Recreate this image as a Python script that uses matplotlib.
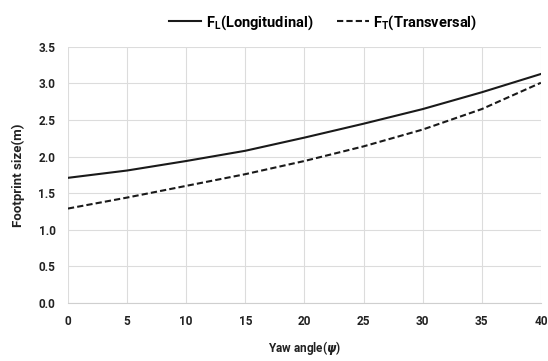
import matplotlib.pyplot as plt

# data
yaw = [0, 5, 10, 15, 20, 25, 30, 35, 40]
f_long = [1.71, 1.81, 1.94, 2.08, 2.26, 2.45, 2.65, 2.88, 3.13]
f_trans = [1.29, 1.44, 1.60, 1.76, 1.94, 2.14, 2.37, 2.65, 3.01]

plt.rcParams['font.family'] = ['Roboto', 'DejaVu Sans']
plt.rcParams['font.weight'] = 'bold'
plt.rcParams['mathtext.default'] = 'regular'

fig = plt.figure(figsize=(5.48, 3.61), dpi=100)
ax = fig.add_axes([0.124, 0.161, 0.863, 0.709])

ax.plot(yaw, f_long, color='#1a1a1a', lw=1.5, label='F$_{L}$(Longitudinal)')
ax.plot(yaw, f_trans, color='#1a1a1a', lw=1.5, ls=(0, (3, 1.5)), label='F$_{T}$(Transversal)')

ax.set_xlim(0, 40)
ax.set_ylim(0, 3.5)
ax.set_xticks(range(0, 41, 5))
ax.set_yticks([i * 0.5 for i in range(8)])
ax.set_yticklabels(['%.1f' % (i * 0.5) for i in range(8)])
for lab in ax.get_xticklabels() + ax.get_yticklabels():
    lab.set_fontweight('bold')
ax.grid(True, color='#dcdcdc', lw=0.8)
ax.set_axisbelow(True)
for s in ax.spines.values():
    s.set_visible(False)
ax.spines['bottom'].set_visible(True)
ax.spines['bottom'].set_color('#cfcfcf')
ax.tick_params(length=0, labelsize=8.5, labelcolor='#222222', pad=9)

ax.set_xlabel('Yaw angle($\\boldsymbol{\\psi}$)', fontsize=8.5, color='#222222',
              fontweight='bold', labelpad=8)
ax.set_ylabel('Footprint size(m)', fontsize=9.5, color='#222222', fontweight='bold', labelpad=10)

fig.legend(loc='upper center', bbox_to_anchor=(0.59, 1.0), ncol=2, frameon=False,
           prop={'size': 10.5, 'weight': 'bold'}, handlelength=2.2, columnspacing=1.6,
           handletextpad=0.3)

fig.savefig('out.png', dpi=100)
